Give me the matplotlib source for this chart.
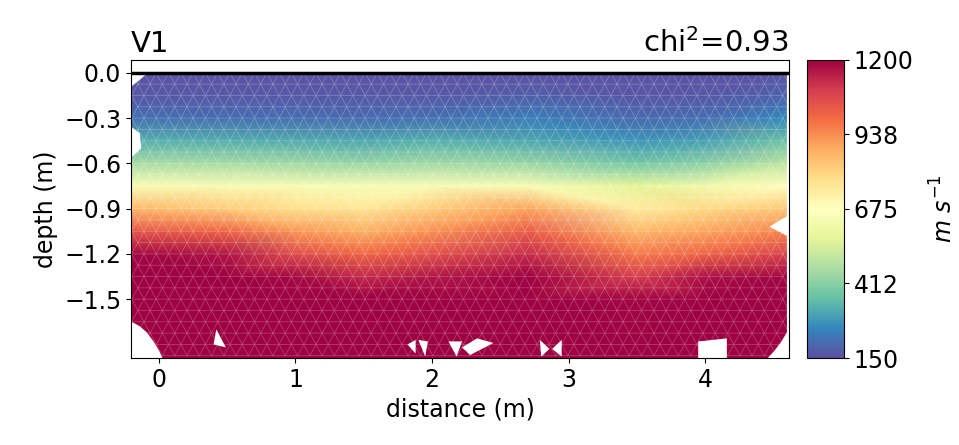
import numpy as np
import matplotlib
matplotlib.use('Agg')
import matplotlib.pyplot as plt
import matplotlib.tri as mtri
from matplotlib.patches import Polygon

# velocity (m/s), rows = depth, columns = distance
dist = [-0.2, 0.5, 1.0, 1.5, 2.0, 2.7, 3.5, 4.0, 4.6]
depth = [0.0, -0.15, -0.3, -0.45, -0.6, -0.75, -0.9, -1.05, -1.2, -1.35, -1.5, -1.9]
vel = [
    [160, 160, 160, 160, 160, 160, 160, 160, 165],
    [170, 170, 170, 170, 170, 180, 165, 170, 190],
    [215, 210, 210, 205, 215, 240, 200, 210, 260],
    [330, 325, 320, 310, 330, 310, 280, 300, 370],
    [465, 460, 450, 440, 450, 440, 380, 420, 500],
    [640, 640, 640, 650, 650, 640, 570, 620, 680],
    [860, 820, 780, 760, 820, 900, 740, 790, 830],
    [1040, 1000, 920, 880, 930, 1020, 860, 900, 950],
    [1190, 1160, 1060, 1000, 1050, 1120, 970, 1010, 1080],
    [1200, 1200, 1180, 1130, 1160, 1200, 1090, 1170, 1190],
    [1200, 1200, 1200, 1200, 1200, 1200, 1190, 1200, 1200],
    [1200, 1200, 1200, 1200, 1200, 1200, 1200, 1200, 1200],
]

# outline of the inverted mesh (white gaps at the edges)
outline_x = [-0.08, 4.6, 4.6, 4.47, 4.6, 4.6, 4.56, 4.51, 4.45, 4.16, 4.16, 3.95, 3.95,
             0.03, 0.0, -0.04, -0.09, -0.14, -0.2, -0.2, -0.13, -0.14, -0.2, -0.2]
outline_z = [0.0, 0.0, -0.95, -1.02, -1.08, -1.72, -1.78, -1.84, -1.9, -1.9, -1.76, -1.78, -1.9,
             -1.9, -1.84, -1.78, -1.72, -1.68, -1.65, -0.56, -0.5, -0.4, -0.36, -0.09]

# small holes near the bottom of the mesh
gaps = [
    [(0.42, -1.70), (0.40, -1.80), (0.49, -1.82)],
    [(1.82, -1.80), (1.88, -1.77), (1.88, -1.86)],
    [(1.90, -1.77), (1.97, -1.78), (1.95, -1.88)],
    [(2.12, -1.78), (2.22, -1.78), (2.18, -1.88)],
    [(2.22, -1.82), (2.33, -1.76), (2.45, -1.79), (2.28, -1.87)],
    [(2.79, -1.77), (2.86, -1.83), (2.80, -1.88)],
    [(2.95, -1.77), (2.88, -1.83), (2.95, -1.88)],
]

cbar_ticks = [150, 412.5, 675, 937.5, 1200]
cbar_labels = ['150', '412', '675', '938', '1200']

fig = plt.figure(figsize=(9.59, 4.45), dpi=100)
ax = fig.add_axes([0.1366, 0.1955, 0.6861, 0.6697])
cax = fig.add_axes([0.8415, 0.1955, 0.0386, 0.6697])

gx, gz = np.meshgrid(dist, depth)
tri = mtri.Triangulation(gx.ravel(), gz.ravel())
tpc = ax.tripcolor(tri, np.array(vel, dtype=float).ravel(), shading='gouraud',
                   cmap='Spectral_r', vmin=150, vmax=1200)

# mesh lines drawn over the field
mx, mz = [], []
for j, zz in enumerate(np.arange(0.0, -1.95, -0.075)):
    off = 0.045 if j % 2 else 0.0
    for xx in np.arange(-0.2 + off, 4.65, 0.09):
        mx.append(xx)
        mz.append(zz)
mesh = mtri.Triangulation(mx, mz)
lines = ax.triplot(mesh, color='white', lw=0.5, alpha=0.28)

clip = Polygon(np.column_stack([outline_x, outline_z]), closed=True,
               transform=ax.transData, facecolor='none', edgecolor='none')
ax.add_patch(clip)
tpc.set_clip_path(clip)
for l in lines:
    l.set_clip_path(clip)

for g in gaps:
    ax.fill([p[0] for p in g], [p[1] for p in g], color='white', lw=0, zorder=2)

ax.axhline(0, color='black', lw=2.5)

ax.set_xlim(-0.205, 4.615)
ax.set_ylim(-1.89, 0.085)
ax.set_xticks([0, 1, 2, 3, 4])
ax.set_yticks([0.0, -0.3, -0.6, -0.9, -1.2, -1.5])
ax.tick_params(labelsize=17)
ax.set_xlabel('distance (m)', fontsize=17)
ax.set_ylabel('depth (m)', fontsize=17)
ax.set_title('V1', loc='left', fontsize=21)
ax.set_title('chi$^2$=0.93', loc='right', fontsize=21)

cb = fig.colorbar(tpc, cax=cax, ticks=cbar_ticks)
cb.set_ticklabels(cbar_labels)
cax.tick_params(labelsize=17)
cb.set_label(r'$m\ s^{-1}$', fontsize=17, labelpad=12)

fig.savefig('out.png', dpi=100)
